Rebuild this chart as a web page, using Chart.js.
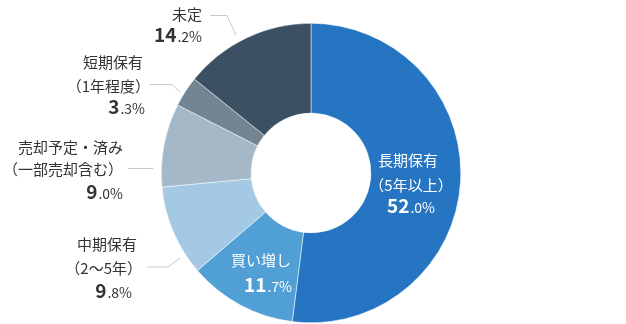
<!DOCTYPE html>
<html>
<head>
<meta charset="utf-8">
<script src="https://cdn.jsdelivr.net/npm/chart.js@4"></script>
<style>
  html, body { margin: 0; padding: 0; background: #fff; }
  #wrap { width: 626px; height: 324px; }
</style>
</head>
<body>
<div id="wrap"><canvas id="holdChart" width="626" height="324"></canvas></div>
<script>
'use strict';
// data
var categories = ['長期保有', '買い増し', '中期保有', '売却予定・済み', '短期保有', '未定'];
var subLabels = ['（5年以上）', '', '（2〜5年）', '（一部売却含む）', '（1年程度）', ''];
var shares = [52.0, 11.7, 9.8, 9.0, 3.3, 14.2];
var sliceColors = ['#2575c3', '#509fd5', '#a3c9e4', '#a5b8c7', '#738593', '#3b5062'];

// label placement (canvas px), one entry per category
var labelLayout = [
  { color: '#fff', align: 'center', name: [408, 160], sub: [411, 185], val: [411, 213] },
  { color: '#fff', align: 'right', name: [291, 260], sub: null, val: [292, 292] },
  { color: '#333', align: 'right', name: [137, 244], sub: [142, 268], val: [132, 298], leader: [[147, 267], [168, 267], [180, 258]] },
  { color: '#333', align: 'right', name: [123, 147], sub: [123, 169], val: [123, 199], leader: [[128, 168.5], [153, 168.5]] },
  { color: '#333', align: 'right', name: [143, 62], sub: [150, 86], val: [145, 114], leader: [[150, 84.5], [172, 84.5], [180, 92]] },
  { color: '#333', align: 'right', name: [202, 14], sub: null, val: [202, 42], leader: [[210, 15.5], [227, 15.5], [236, 35]] }
];

var FONT = '"Noto Sans CJK JP", "Noto Sans", sans-serif';

function drawValue(ctx, v, pos, align) {
  var s = v.toFixed(1);
  var intPart = s.split('.')[0];
  var rest = '.' + s.split('.')[1] + '%';
  var bigFont = 'bold 19px ' + FONT;
  var smallFont = '14px ' + FONT;
  ctx.font = bigFont;
  var w1 = ctx.measureText(intPart).width;
  ctx.font = smallFont;
  var w2 = ctx.measureText(rest).width + 1;
  var total = w1 + w2;
  var x0 = align === 'right' ? pos[0] - total : pos[0] - total / 2;
  ctx.textAlign = 'left';
  ctx.textBaseline = 'alphabetic';
  ctx.font = bigFont;
  ctx.fillText(intPart, x0, pos[1]);
  ctx.font = smallFont;
  ctx.fillText(rest, x0 + w1 + 1, pos[1]);
}

var labelPlugin = {
  id: 'sliceLabels',
  afterDatasetsDraw: function(chart) {
    var ctx = chart.ctx;
    var vals = chart.data.datasets[0].data;
    ctx.save();
    labelLayout.forEach(function(lay, i) {
      if (lay.leader) {
        ctx.beginPath();
        ctx.strokeStyle = '#c8c8c8';
        ctx.lineWidth = 1;
        lay.leader.forEach(function(p, j) {
          if (j === 0) ctx.moveTo(p[0], p[1]); else ctx.lineTo(p[0], p[1]);
        });
        ctx.stroke();
      }
      ctx.fillStyle = lay.color;
      ctx.font = '15px ' + FONT;
      ctx.textAlign = lay.align;
      ctx.textBaseline = 'middle';
      ctx.fillText(chart.data.labels[i], lay.name[0], lay.name[1]);
      if (lay.sub && subLabels[i]) {
        ctx.fillText(subLabels[i], lay.sub[0], lay.sub[1]);
      }
      drawValue(ctx, vals[i], lay.val, lay.align);
    });
    ctx.restore();
  }
};

new Chart(document.getElementById('holdChart'), {
  type: 'doughnut',
  data: {
    labels: categories,
    datasets: [{
      data: shares,
      backgroundColor: sliceColors,
      borderColor: '#ffffff',
      borderWidth: 0.5
    }]
  },
  options: {
    responsive: false,
    animation: false,
    cutout: '40%',
    layout: { padding: { top: 23, bottom: 1, left: 0, right: 4 } },
    plugins: { legend: { display: false }, tooltip: { enabled: false } }
  },
  plugins: [labelPlugin]
});
</script>
</body>
</html>
